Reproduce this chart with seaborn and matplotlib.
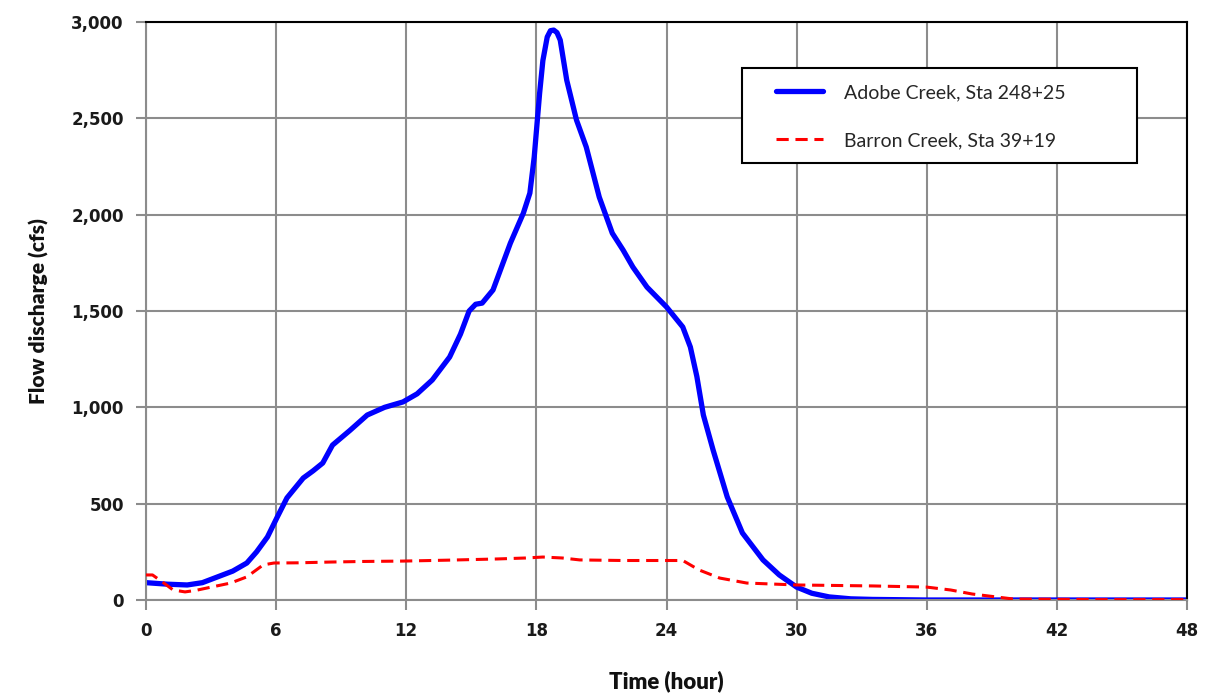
import matplotlib
matplotlib.use("Agg")
import matplotlib.pyplot as plt
import matplotlib.ticker as mticker
from matplotlib.patches import Rectangle
import seaborn as sns
import pandas as pd

# ---- data ----
adobe_t = [0, 1, 1.9, 2.6, 3.3, 4.0, 4.65, 5.1, 5.6, 6.05,
           6.5, 7.25, 7.7, 8.15, 8.6, 9.4, 10.2, 11.0, 11.85, 12.5,
           13.2, 14.0, 14.5, 14.9, 15.2, 15.5, 16.0, 16.8, 17.4, 17.7,
           17.9, 18.15, 18.3, 18.5, 18.65, 18.8, 18.95, 19.1, 19.4, 19.85,
           20.3, 20.9, 21.5, 22.0, 22.45, 23.1, 24.0, 24.75, 25.1, 25.4,
           25.7, 26.15, 26.8, 27.5, 28.45, 29.2, 30.0, 30.7, 31.5, 32.5,
           33.5, 36, 40, 44, 48]
adobe_q = [90, 82, 78, 90, 120, 150, 192, 250, 327, 430,
           530, 633, 670, 711, 804, 880, 960, 1000, 1028, 1070,
           1142, 1261, 1380, 1500, 1535, 1541, 1609, 1852, 2008, 2112,
           2299, 2631, 2800, 2922, 2955, 2958, 2945, 2906, 2698, 2491,
           2351, 2091, 1904, 1816, 1728, 1624, 1521, 1417, 1313, 1160,
           960, 778, 535, 348, 208, 130, 67, 35, 16, 6,
           3, 0, 0, 0, 0]

barron_t = [0, 0.3, 0.8, 1.25, 1.8, 2.3, 2.8, 3.9, 4.65, 5.4,
            5.9, 7.0, 8.5, 10, 11.85, 14, 16.2, 17.5, 18.3, 19.2,
            20, 22, 24, 24.75, 25.5, 26.45, 27.7, 30, 33.5, 36,
            37.1, 38.1, 39.2, 40, 44, 48]
barron_q = [130, 130, 90, 52, 42, 50, 62, 88, 120, 182,
            192, 193, 197, 200, 202, 207, 213, 218, 223, 218,
            208, 205, 205, 205, 156, 114, 88, 78, 73, 67,
            52, 31, 16, 5, 2, 2]

series_names = ["Adobe Creek, Sta 248+25", "Barron Creek, Sta 39+19"]
x_ticks = [0, 6, 12, 18, 24, 30, 36, 42, 48]
y_ticks = [0, 500, 1000, 1500, 2000, 2500, 3000]
x_label = "Time (hour)"
y_label = "Flow discharge (cfs)"

# ---- plot ----
sns.set_theme(style="white")
plt.rcParams["font.family"] = ["DejaVu Sans"]

W, H = 1207, 694
fig = plt.figure(figsize=(W / 100, H / 100), dpi=100)
ax = fig.add_axes([146 / W, 1 - 600 / H, (1187 - 146) / W, (600 - 22) / H])

df_a = pd.DataFrame({"t": adobe_t, "q": adobe_q})
df_b = pd.DataFrame({"t": barron_t, "q": barron_q})

grid_c = "#8c8c8c"
ax.set_axisbelow(True)
ax.grid(True, color=grid_c, linewidth=1.5)

sns.lineplot(data=df_b, x="t", y="q", ax=ax, color="#ff0000", linewidth=2.2,
             linestyle=(0, (4, 2.2)), label=series_names[1], zorder=3)
sns.lineplot(data=df_a, x="t", y="q", ax=ax, color="#0000ff", linewidth=3.8,
             label=series_names[0], zorder=2, solid_joinstyle="round",
             solid_capstyle="round")

ax.set_xlim(0, 48)
ax.set_ylim(0, 3000)
ax.set_xticks(x_ticks)
ax.set_yticks(y_ticks)
ax.yaxis.set_major_formatter(mticker.FuncFormatter(lambda v, p: f"{int(v):,}"))

ax.tick_params(axis="both", which="major", direction="out", length=7, width=1.5,
               color=grid_c, labelsize=12, pad=9, bottom=True, left=True)
for lab in ax.get_xticklabels() + ax.get_yticklabels():
    lab.set_fontweight("bold")
    lab.set_color("#1a1a1a")

for side in ["left", "bottom"]:
    ax.spines[side].set_color(grid_c)
    ax.spines[side].set_linewidth(1.5)
for side in ["top", "right"]:
    ax.spines[side].set_color("black")
    ax.spines[side].set_linewidth(1.5)

ax.set_xlabel(x_label, fontsize=16, fontweight="heavy", family=["Lato", "DejaVu Sans"],
              labelpad=22, color="#111111")
ax.set_ylabel(y_label, fontsize=15, fontweight="heavy", family=["Lato", "DejaVu Sans"],
              labelpad=16, color="#111111")

handles, labels = ax.get_legend_handles_labels()
if ax.get_legend() is not None:
    ax.get_legend().remove()

# legend box (white, black border) and frameless legend inside it
box = Rectangle((742 / W, 1 - 163 / H), 395 / W, 95 / H, transform=fig.transFigure,
                facecolor="white", edgecolor="black", linewidth=1.5, zorder=4)
fig.patches.append(box)

order = [labels.index(n) for n in series_names]
leg = fig.legend([handles[i] for i in order], [labels[i] for i in order],
                 loc="upper left", bbox_to_anchor=(776 / W, 1 - 84 / H),
                 bbox_transform=fig.transFigure, borderaxespad=0, borderpad=0,
                 frameon=False,
                 prop={"family": ["Lato", "DejaVu Sans"], "size": 14},
                 handlelength=2.4, handletextpad=1.1, labelspacing=1.6)
leg.set_zorder(5)

fig.savefig("out.png", dpi=100)
